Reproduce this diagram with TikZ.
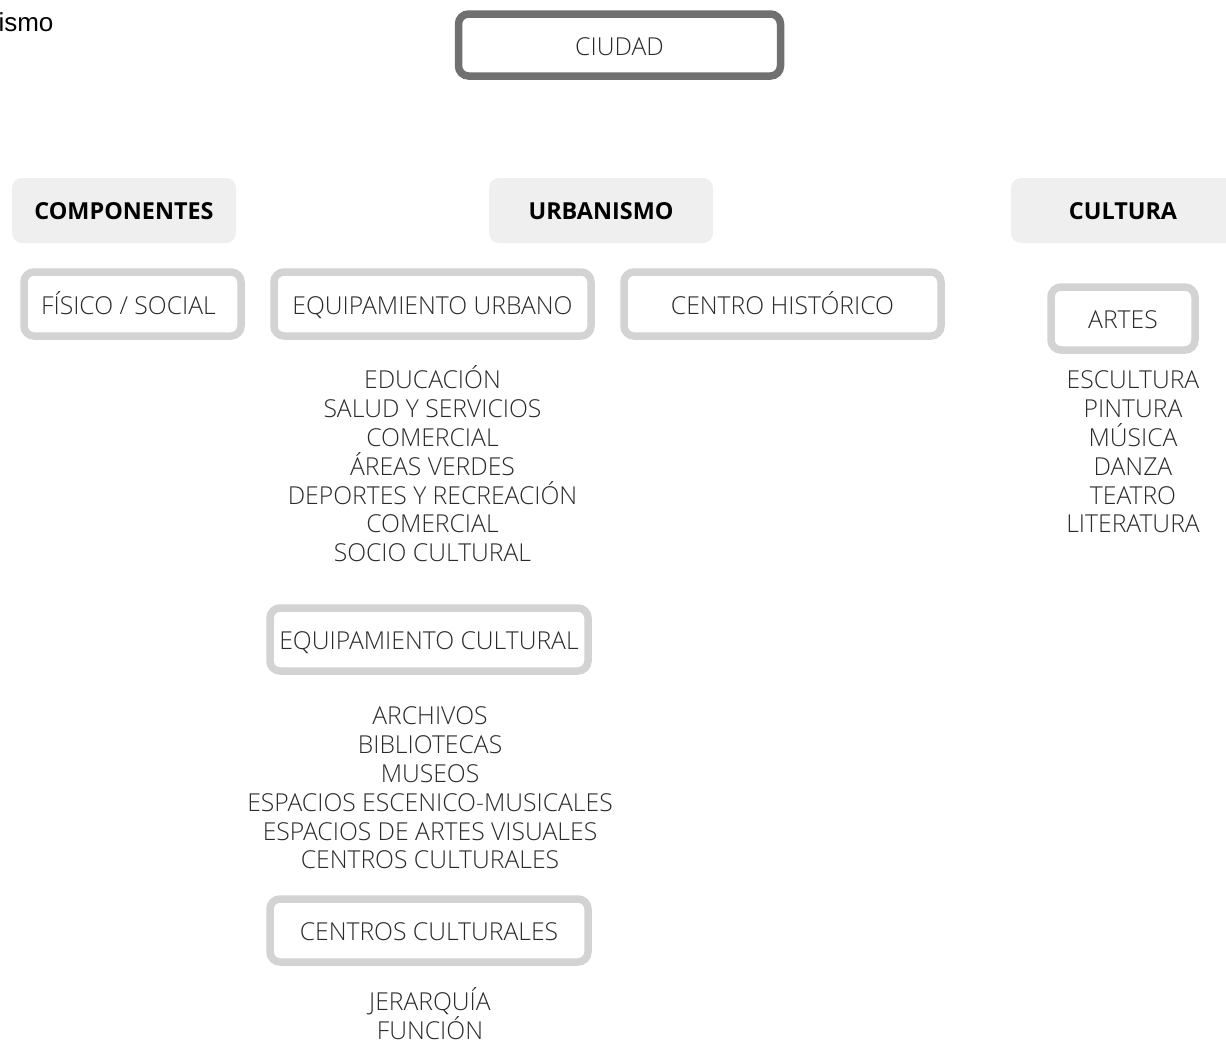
\documentclass[tikz,border=0pt]{standalone}
\usepackage{fontspec}
\setmainfont{Open Sans Light}
\newfontfamily\boldf{Open Sans Bold}
\newfontfamily\arialf{Liberation Sans}
\definecolor{dark}{HTML}{707070}
\definecolor{light}{HTML}{D3D3D3}
\definecolor{fillg}{HTML}{EFEFEF}
\definecolor{txt}{HTML}{2A2A2A}
\begin{document}
\begin{tikzpicture}[x=1pt,y=-1pt,
  every node/.style={inner sep=0pt,outer sep=0pt},
  boxfont/.style={font=\fontsize{24.7}{28.8}\selectfont,text height=20.6pt,text depth=0pt},
  darkbox/.style={boxfont,draw=dark,line width=7.5pt,rounded corners=10pt,fill=white,minimum height=62pt,text=txt},
  lightbox/.style={boxfont,draw=light,line width=7.5pt,rounded corners=10pt,fill=white,minimum height=64pt,text=txt},
  headbox/.style={fill=fillg,rounded corners=10pt,minimum width=224pt,minimum height=65pt,font=\boldf\fontsize{23.4}{28}\selectfont,text height=17.8pt,text depth=0pt,text=black},
  listtxt/.style={align=center,text=txt,font=\fontsize{24.7}{28.8}\selectfont,anchor=north}
]
\useasboundingbox (0,0) rectangle (1226,1042);
\node[anchor=west,font=\arialf\fontsize{26}{30}\selectfont] (ismo) at (-1.5,22) {ismo};
\node[darkbox,minimum width=322pt] (ciudad) at (619.5,45) {CIUDAD};

\node[headbox] (comp) at (124,210.5) {COMPONENTES};
\node[headbox] (urb) at (601,210.5) {URBANISMO};
\fill[fillg,rounded corners=10pt] (1011,178) rectangle (1240,243);
\node[font=\boldf\fontsize{23.4}{28}\selectfont,text height=17.8pt,text depth=0pt] (cult) at (1123,210.5) {CULTURA};

\node[lightbox,minimum width=217pt] (fis) at (132.5,304) {\hspace*{-8pt}FÍSICO / SOCIAL};
\node[lightbox,minimum width=317pt] (eu) at (432.5,304) {EQUIPAMIENTO URBANO};
\node[lightbox,minimum width=317pt] (ch) at (782.5,304) {CENTRO HISTÓRICO};
\node[lightbox,minimum width=144pt,minimum height=63pt] (artes) at (1123,318.5) {ARTES};

\node[listtxt] (eulist) at (432.5,362.8) {\rule{0pt}{26pt}EDUCACIÓN\\SALUD Y SERVICIOS\\COMERCIAL\\ÁREAS VERDES\\DEPORTES Y RECREACIÓN\\COMERCIAL\\SOCIO CULTURAL};

\node[lightbox,minimum width=318pt,minimum height=63pt] (ec) at (429,639.5) {EQUIPAMIENTO CULTURAL};

\node[listtxt] (eclist) at (430,698.8) {\rule{0pt}{26pt}ARCHIVOS\\BIBLIOTECAS\\MUSEOS\\ESPACIOS ESCENICO-MUSICALES\\ESPACIOS DE ARTES VISUALES\\CENTROS CULTURALES};

\node[lightbox,minimum width=318pt,minimum height=63pt] (cc) at (429,930.5) {CENTROS CULTURALES};

\node[listtxt] (cclist) at (430,984.8) {\rule{0pt}{26pt}JERARQUÍA\\FUNCIÓN};

\node[listtxt] (artlist) at (1133,362.8) {\rule{0pt}{26pt}ESCULTURA\\PINTURA\\MÚSICA\\DANZA\\TEATRO\\LITERATURA};
\end{tikzpicture}
\end{document}
